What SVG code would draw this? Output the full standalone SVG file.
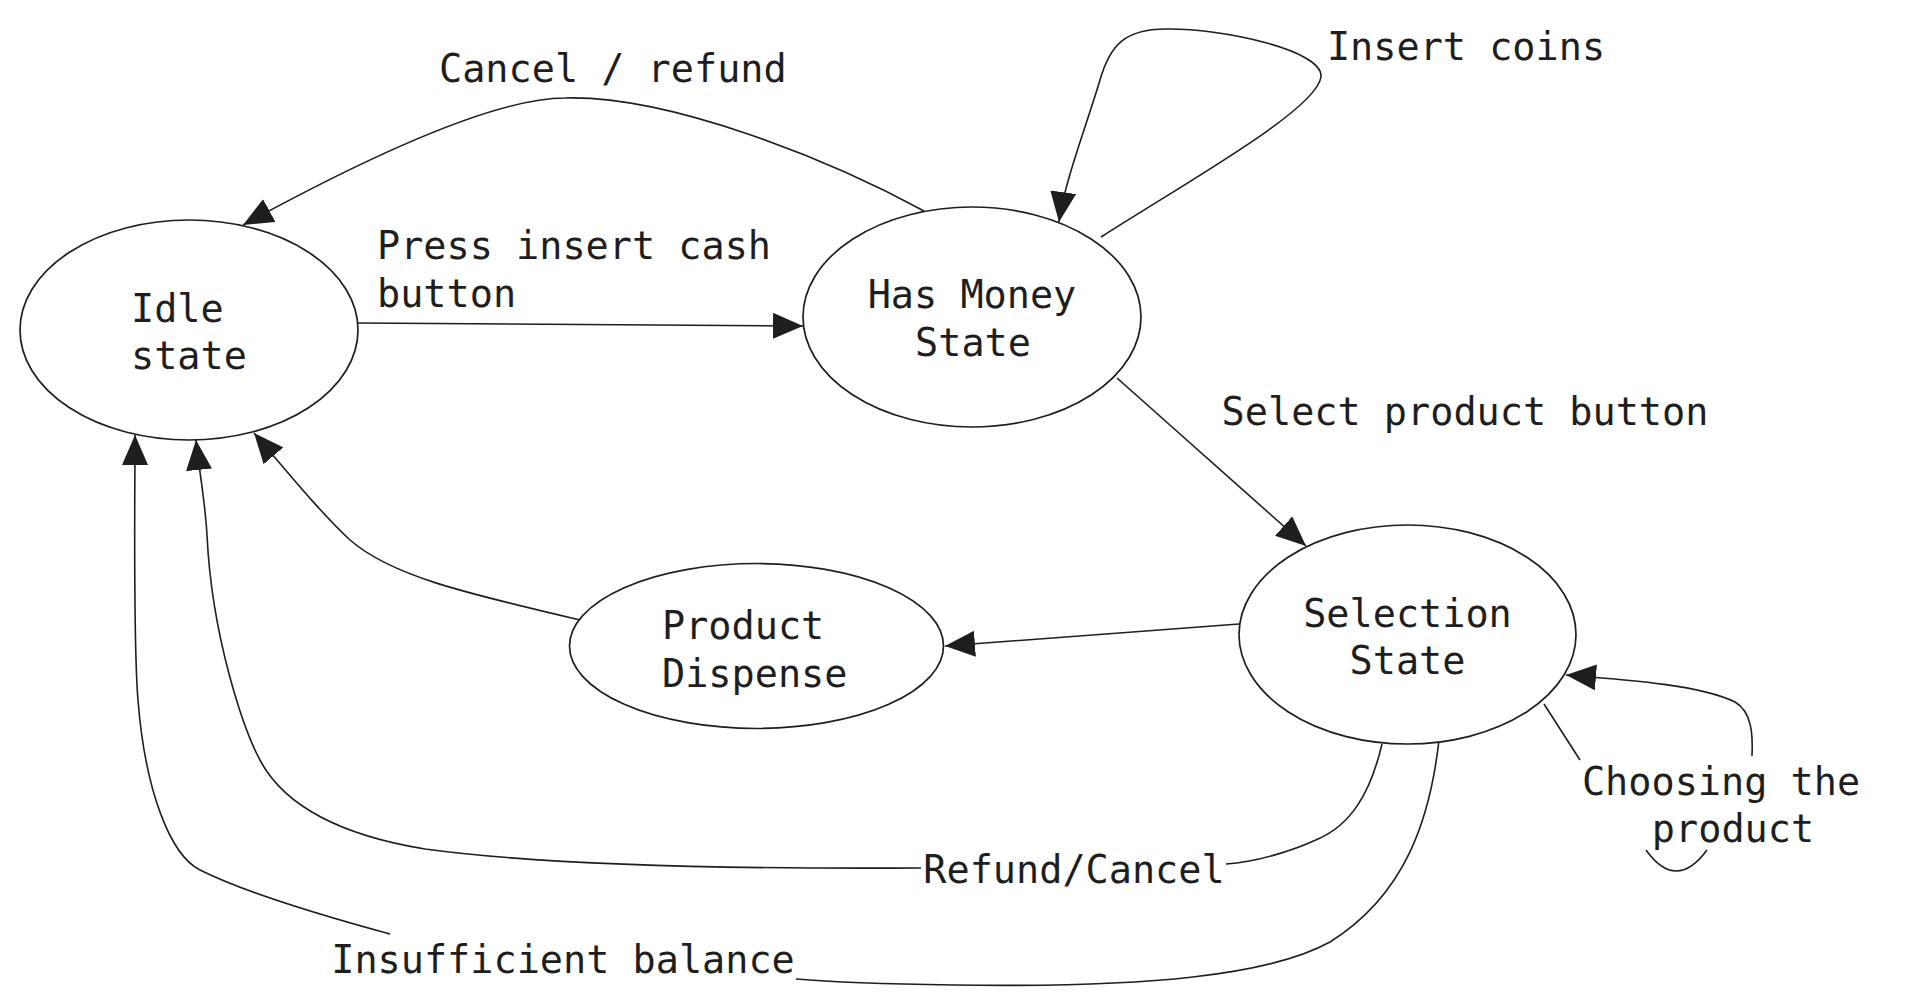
<svg xmlns="http://www.w3.org/2000/svg" width="1906" height="1005" viewBox="0 0 1906 1005">
<defs>
<marker id="arrow" markerUnits="userSpaceOnUse" markerWidth="30" markerHeight="26" refX="30" refY="13" orient="auto"><path d="M0,0 L30,13 L0,26 Z" fill="#1e1e1e"/></marker>
</defs>
<style>
.node ellipse{fill:#ffffff;stroke:#1e1e1e;stroke-width:1.7}
text{font-family:"DejaVu Sans Mono","Liberation Mono",monospace;font-size:38.5px;fill:#1e1e1e}
.mid{text-anchor:middle}
.edge{fill:none;stroke:#1e1e1e;stroke-width:1.6}
.arr{marker-end:url(#arrow)}
</style>
<rect width="1906" height="1005" fill="#ffffff"/>
<g id="connectors">
  <path class="edge arr" d="M358 323 L803 326"/>
  <text x="377" y="259">Press insert cash</text>
  <text x="377" y="307">button</text>

  <path class="edge arr" d="M924 211 C 830 160, 670 95, 565 98 C 500 98, 380 150, 243 225"/>
  <text x="439" y="82">Cancel / refund</text>

  <path class="edge arr" d="M1101 237 C 1190 180, 1316 110, 1321 77 C 1324 50, 1220 28, 1166 29 C 1125 29, 1110 45, 1100 80 C 1085 130, 1065 180, 1059 222"/>
  <text class="mid" x="1466" y="60">Insert coins</text>

  <path class="edge arr" d="M1117 378 L1306 546"/>
  <text class="mid" x="1465" y="425">Select product button</text>

  <path class="edge arr" d="M1239 624 L945 646"/>

  <path class="edge arr" d="M580 620 C 460 592, 390 575, 350 540 C 320 512, 290 475, 254 433"/>

  <path class="edge arr" d="M1382 744 C 1370 795, 1350 825, 1318 839 C 1290 852, 1255 862, 1226 864 M921 868 C 750 869, 550 866, 425 849 C 340 835, 285 805, 261 762 C 245 733, 212 640, 207 535 C 205 500, 199 470, 196 440"/>
  <text class="mid" x="1074" y="883">Refund/Cancel</text>

  <path class="edge arr" d="M1439 740 C 1430 820, 1405 895, 1330 942 C 1270 975, 1150 988, 953 985 C 880 984, 830 982, 796 979 M390 934 C 320 915, 240 890, 200 870 C 170 855, 145 790, 138 700 C 133 640, 135 500, 135 435"/>
  <text class="mid" x="563" y="973">Insufficient balance</text>

  <path class="edge" d="M1544 704 L1580 760 M1646 850 Q1676 892 1707 850"/>
  <path class="edge arr" d="M1752 756 C 1753 735, 1752 712, 1735 702 C 1700 685, 1630 680, 1566 675"/>
  <text class="mid" x="1721" y="795">Choosing the</text>
  <text class="mid" x="1733" y="842">product</text>
</g>
<g id="idle" class="node">
  <ellipse cx="189" cy="330" rx="169" ry="110"/>
  <text x="131" y="322">Idle</text>
  <text x="131" y="369">state</text>
</g>
<g id="has-money" class="node">
  <ellipse cx="972" cy="317" rx="169" ry="110"/>
  <text class="mid" x="972" y="308">Has Money</text>
  <text class="mid" x="973" y="356">State</text>
</g>
<g id="selection" class="node">
  <ellipse cx="1407.5" cy="634.5" rx="168.5" ry="109.5"/>
  <text class="mid" x="1407.5" y="627">Selection</text>
  <text class="mid" x="1407.5" y="674">State</text>
</g>
<g id="product-dispense" class="node">
  <ellipse cx="756.5" cy="646" rx="187" ry="82.5"/>
  <text x="662" y="639">Product</text>
  <text x="662" y="687">Dispense</text>
</g>
</svg>
